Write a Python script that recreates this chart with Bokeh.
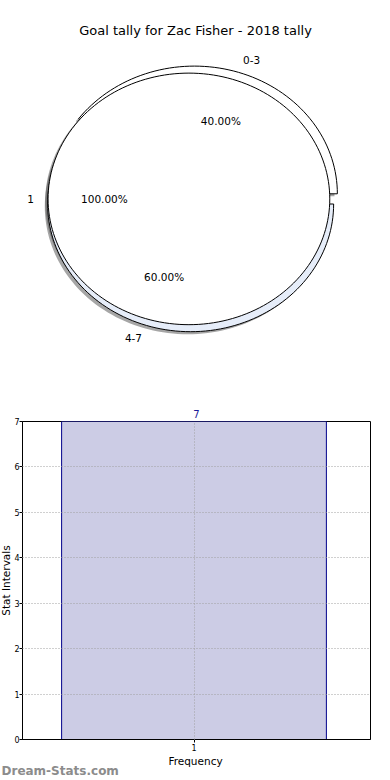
import math
from bokeh.plotting import figure
from bokeh.layouts import column, row
from bokeh.models import Range1d, Label, FixedTicker, ColumnDataSource, Title
from bokeh.core.properties import value
from bokeh.embed import file_html
from bokeh.resources import INLINE

# ---------------- data ----------------
title_text = "Goal tally for Zac Fisher - 2018 tally"
outer_labels = ["0-3", "4-7"]
outer_values = [40.0, 60.0]
inner_labels = ["1"]
inner_values = [100.0]

bar_categories = [1]
bar_values = [7]
y_ticks = [0, 1, 2, 3, 4, 5, 6, 7]
y_label = "Stat Intervals"
x_label = "Frequency"
watermark = "Dream-Stats.com"

# ---------------- style / layout ----------------
FONT = "DejaVu Sans"
W = 390
H_TOP = 388
H_MID = 365
H_FOOT = 780 - H_TOP - H_MID
W_YLAB = 11

SX, SY = 143.0, 127.7          # pixels per radius unit (x, y)
CX_PX, CY_PX = 192.0, 198.4    # pie centre within the top canvas (from left / top)

outer_colors = ["#ffffff", "#e6edf9"]
inner_colors = ["#ffffff"]
OUTER_R, OUTER_EXPLODE = 1.0, 0.042
INNER_R, INNER_EXPLODE = 0.985, 0.025
SHADOW_OFF = 0.02


def bare_fig(w, h):
    f = figure(width=w, height=h, output_backend="svg", toolbar_location=None,
               x_range=Range1d(0, 1), y_range=Range1d(0, 1),
               x_axis_location=None, y_axis_location=None, min_border=0,
               frame_align=False)
    f.grid.visible = False
    f.outline_line_color = None
    return f


pie = figure(width=W, height=H_TOP, output_backend="svg", toolbar_location=None,
             x_range=Range1d(-CX_PX / SX, (W - CX_PX) / SX),
             y_range=Range1d(-(H_TOP - CY_PX) / SY, CY_PX / SY),
             x_axis_location=None, y_axis_location=None, min_border=0,
             frame_align=False)
pie.grid.visible = False
pie.outline_line_color = None


def wedge_xy(cx, cy, r, a0, a1):
    full = (a1 - a0) >= 359.999
    xs, ys = ([], []) if full else ([cx], [cy])
    steps = max(4, int(180 * (a1 - a0) / 360))
    for i in range(steps + 1):
        t = math.radians(a0 + (a1 - a0) * i / steps)
        xs.append(cx + r * math.cos(t))
        ys.append(cy + r * math.sin(t))
    return xs, ys


def build_pie(labels, values, colors, radius, explode):
    total = float(sum(values))
    a0 = 0.0
    wedges = dict(xs=[], ys=[], color=[])
    shadows = dict(xs=[], ys=[])
    texts = dict(x=[], y=[], text=[], align=[])
    pcts = dict(x=[], y=[], text=[])
    for lab, v, c in zip(labels, values, colors):
        a1 = a0 + 360.0 * v / total
        mid = math.radians((a0 + a1) / 2)
        cx = explode * math.cos(mid)
        cy = explode * math.sin(mid)
        xs, ys = wedge_xy(cx, cy, radius, a0, a1)
        wedges["xs"].append(xs); wedges["ys"].append(ys); wedges["color"].append(c)
        sx, sy = wedge_xy(cx - SHADOW_OFF, cy - SHADOW_OFF, radius, a0, a1)
        shadows["xs"].append(sx); shadows["ys"].append(sy)
        lx = cx + 1.1 * radius * math.cos(mid)
        ly = cy + 1.1 * radius * math.sin(mid)
        texts["x"].append(lx); texts["y"].append(ly); texts["text"].append(lab)
        texts["align"].append("left" if lx > 0 else "right")
        pcts["x"].append(cx + 0.6 * radius * math.cos(mid))
        pcts["y"].append(cy + 0.6 * radius * math.sin(mid))
        pcts["text"].append("%.2f%%" % (100.0 * v / total))
        a0 = a1
    return wedges, shadows, texts, pcts


outer = build_pie(outer_labels, outer_values, outer_colors, OUTER_R, OUTER_EXPLODE)
inner = build_pie(inner_labels, inner_values, inner_colors, INNER_R, INNER_EXPLODE)

# shadows first (below all wedges), then outer wedges, then inner pie
for part in (outer, inner):
    pie.patches(xs="xs", ys="ys", source=ColumnDataSource(part[1]),
                fill_color="#4d4d4d", fill_alpha=0.5, line_color=None)
for part in (outer, inner):
    pie.patches(xs="xs", ys="ys", source=ColumnDataSource(part[0]),
                fill_color="color", line_color="black", line_width=1)
for part in (outer, inner):
    pie.text(x="x", y="y", text="text", source=ColumnDataSource(part[2]),
             text_align="align", text_baseline="middle",
             text_font=value(FONT), text_font_size="10.5px", text_color="black")
    pie.text(x="x", y="y", text="text", source=ColumnDataSource(part[3]),
             text_align="center", text_baseline="middle",
             text_font=value(FONT), text_font_size="10.5px", text_color="black")

pie.add_layout(Label(x=195, y=H_TOP - 30, x_units="screen", y_units="screen",
                     text=title_text, text_align="center", text_baseline="middle",
                     text_font=FONT, text_font_size="13px", text_color="black"))

# ---------------- y label strip ----------------
ylab = bare_fig(W_YLAB, H_MID)
ylab.add_layout(Label(x=W_YLAB / 2, y=H_MID - (580 - H_TOP), x_units="screen", y_units="screen",
                      text=y_label, angle=math.pi / 2,
                      text_align="center", text_baseline="middle",
                      text_font=FONT, text_font_size="10.5px", text_color="black"))

# ---------------- bar chart ----------------
bar = figure(width=W - W_YLAB, height=H_MID, output_backend="svg", toolbar_location=None,
             x_range=Range1d(0.4818, 1.5333), y_range=Range1d(0, 7),
             min_border_left=9, min_border_right=20, min_border_top=33,
             min_border_bottom=13, frame_align=False)

src = ColumnDataSource(dict(x=bar_categories, top=bar_values))
bar.vbar(x="x", top="top", width=0.8, source=src,
         fill_color="#ccccE5", line_color="#00008b", line_width=1)

# value label above the bar (drawn in the border, above the frame)
bar.add_layout(Title(text=str(bar_values[0]), align="center", vertical_align="bottom",
                     standoff=7, text_font=FONT, text_font_size="10px",
                     text_font_style="normal", text_color="#1a1a99"), "above")

bar.xaxis.ticker = FixedTicker(ticks=bar_categories)
bar.yaxis.ticker = FixedTicker(ticks=y_ticks)
bar.axis.major_label_text_font = FONT
bar.axis.major_label_text_font_size = "8px"
bar.axis.major_label_text_color = "black"
bar.axis.major_tick_out = 3
bar.axis.major_tick_in = 0
bar.axis.minor_tick_line_color = None
bar.axis.axis_line_color = "black"
bar.axis.major_tick_line_color = "black"
bar.xaxis.major_label_standoff = 1
bar.yaxis.major_label_standoff = 0
bar.outline_line_color = "black"
bar.outline_line_alpha = 1

bar.grid.grid_line_color = "#a0a0a0"
bar.grid.grid_line_dash = "1 2"
bar.grid.level = "annotation"

# ---------------- footer: x label and watermark ----------------
foot = bare_fig(W, H_FOOT)
foot.add_layout(Label(x=195, y=780 - 760, x_units="screen", y_units="screen",
                      text=x_label, text_align="center", text_baseline="middle",
                      text_font=FONT, text_font_size="10.5px", text_color="black"))
foot.add_layout(Label(x=1, y=780 - 770, x_units="screen", y_units="screen",
                      text=watermark, text_align="left", text_baseline="middle",
                      text_font=FONT, text_font_size="12px", text_color="#8c8c8c",
                      text_font_style="bold"))

layout = column(pie, row(ylab, bar, spacing=0), foot, spacing=0)
open("out.html", "w").write(file_html(layout, INLINE))
